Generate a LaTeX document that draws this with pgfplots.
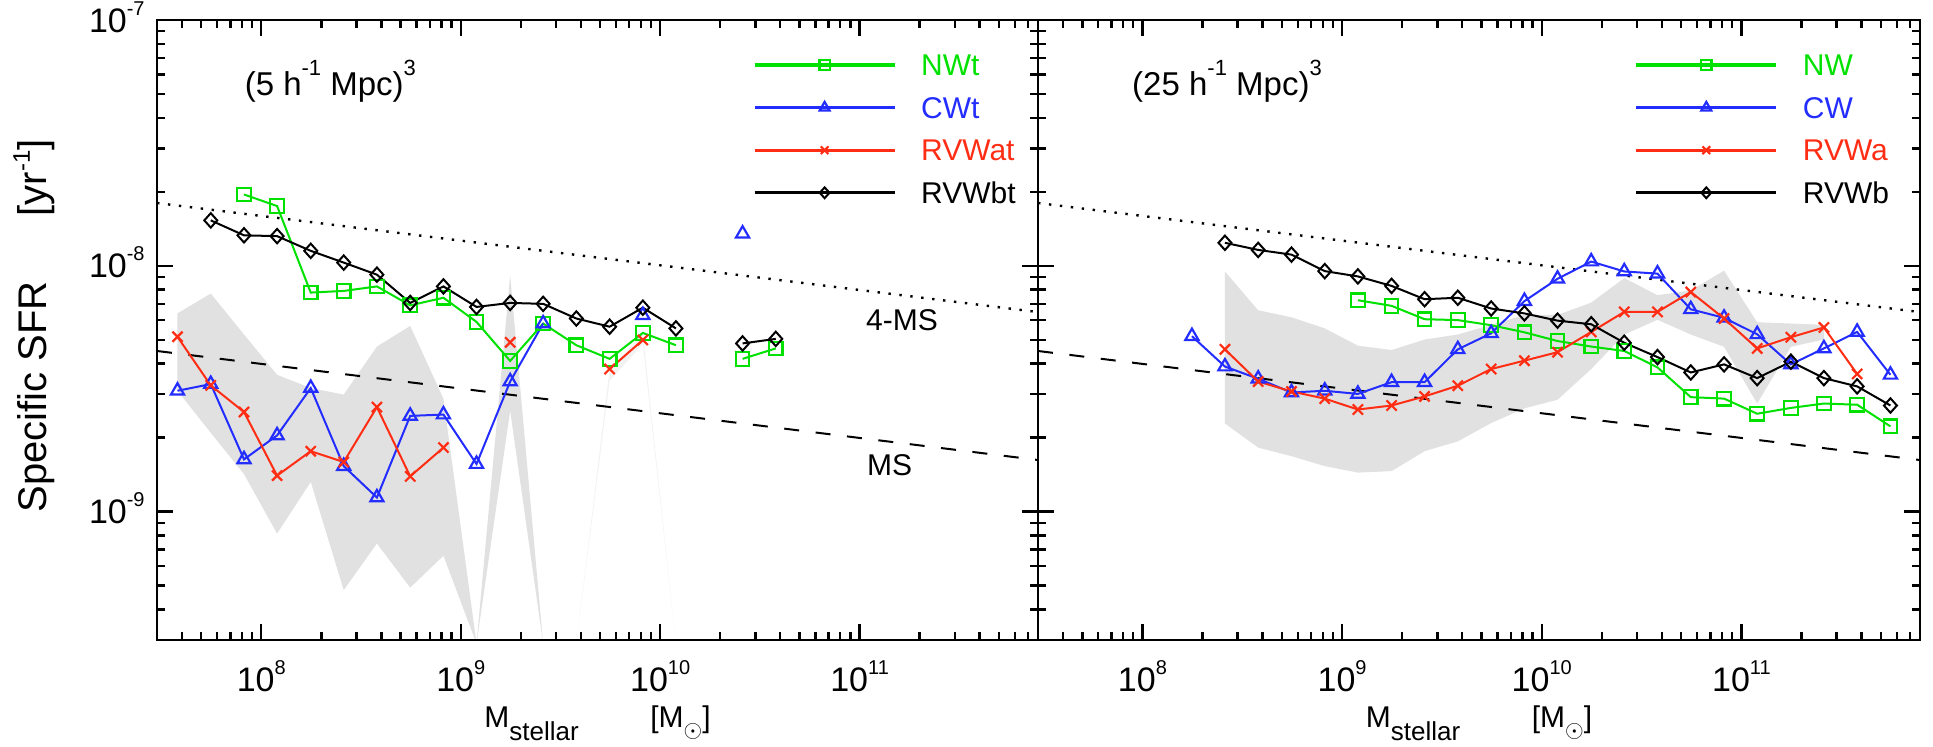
\documentclass[border=0pt]{standalone}
\usepackage{fontspec}
\setmainfont{Liberation Sans}
\usepackage{pgfplots}
\pgfplotsset{compat=1.18}
\definecolor{cgreen}{RGB}{0,225,0}
\definecolor{cblue}{RGB}{35,45,255}
\definecolor{cred}{RGB}{255,45,20}
\definecolor{cband}{RGB}{225,225,225}
\newcommand\tlab[1]{10\raisebox{0.5em}{\fontsize{10}{10}\selectfont #1}}
\newcommand\sups[1]{\raisebox{0.6em}{\fontsize{11}{11}\selectfont #1}}
\tikzset{
  sNW/.style={color=cgreen, line width=1pt, mark=square, mark size=3.4pt, mark options={solid, line width=1.1pt}},
  sCW/.style={color=cblue, line width=1pt, mark=triangle, mark size=3.8pt, mark options={solid, line width=1.1pt}},
  sRa/.style={color=cred, line width=1pt, mark=x, mark size=3.6pt, mark options={solid, line width=1.1pt}},
  sRb/.style={color=black, line width=1pt, mark=diamond, mark size=3.6pt, mark options={solid, line width=1pt, xscale=1.2}},
  msline/.style={black, line width=1pt, dash pattern=on 7.5pt off 8.3pt},
  ms4line/.style={black, line width=1.2pt, dash pattern=on 1.2pt off 4.3pt},
}
\begin{document}
\begin{tikzpicture}
\path[use as bounding box] (0pt,0pt) rectangle (966.5pt,373.5pt);
% ---------------- left panel ----------------
\begin{axis}[
    xmode=log, ymode=log, scale only axis, height=310pt, width=440.5pt,
    at={(78.5pt,53.5pt)}, anchor=south west,
    xmin=3e7, xmax=7.85e11, ymin=3e-10, ymax=1e-7,
    xtick={1e8,1e9,1e10,1e11},
    xticklabels={\tlab{8},\tlab{9},\tlab{10},\tlab{11}},
    minor xtick={4e7,5e7,6e7,7e7,8e7,9e7,2e8,3e8,4e8,5e8,6e8,7e8,8e8,9e8,2e9,3e9,4e9,5e9,6e9,7e9,8e9,9e9,2e10,3e10,4e10,5e10,6e10,7e10,8e10,9e10,2e11,3e11,4e11,5e11,6e11,7e11},
    ytick={1e-9,1e-8,1e-7},
    yticklabels={\tlab{-9},\tlab{-8},\tlab{-7}},
    minor ytick={4e-10,5e-10,6e-10,7e-10,8e-10,9e-10,2e-9,3e-9,4e-9,5e-9,6e-9,7e-9,8e-9,9e-9,2e-8,3e-8,4e-8,5e-8,6e-8,7e-8,8e-8,9e-8},
    axis line style={line width=1.4pt},
    tick style={black, line width=1.2pt},
    major tick length=8pt, minor tick length=4pt,
    tick align=inside,
    axis on top=true,
    xticklabel style={font=\fontsize{17}{17}\selectfont, anchor=base, inner sep=0pt, yshift=-25.85pt},
    yticklabel style={font=\fontsize{17}{17}\selectfont, anchor=base east, inner sep=0pt, xshift=-6pt, yshift=-6.1pt},
    unbounded coords=jump,
    legend style={at={(axis description cs:0.6765,0.9447)}, anchor=north west, draw=none, fill=none,
      inner sep=0pt, outer sep=0pt, row sep=10.6pt, column sep=12.5pt,
      font=\fontsize{15}{15}\selectfont,
      nodes={inner sep=0pt, text height=10.7pt, text depth=0pt}},
    legend cell align=left,
    legend image code/.code={
      \draw[line width=1.6pt] (0pt,0pt) -- (70pt,0pt);
      \draw[line width=0.7pt, every mark/.append style={scale=0.75}] plot coordinates {(35pt,0pt)};
    },
    xlabel={M\raisebox{-6.5pt}{\fontsize{13}{13}\selectfont stellar}\hspace{35.8pt}[M\raisebox{-5pt}{\fontsize{12}{12}\selectfont$\odot$}]},
    xlabel style={at={(axis description cs:0.5,0)}, anchor=base, yshift=-43.5pt, font=\fontsize{15}{15}\selectfont},
]
\addplot[fill=cband, draw=none, forget plot] coordinates {
 (3.80e7,6.40e-9) (5.58e7,7.71e-9) (8.19e7,5.25e-9) (1.20e8,3.60e-9) (1.77e8,3.18e-9) (2.59e8,2.99e-9)
 (3.80e8,4.69e-9) (5.58e8,5.69e-9) (8.19e8,2.88e-9) (1.20e9,2.9e-10) (1.77e9,9.12e-9) (2.59e9,2.9e-10)
 (2.59e9,2.9e-10) (1.77e9,2.57e-9) (1.20e9,2.9e-10) (8.19e8,6.61e-10) (5.58e8,4.90e-10) (3.80e8,7.41e-10)
 (2.59e8,4.79e-10) (1.77e8,1.32e-9) (1.20e8,8.13e-10) (8.19e7,1.42e-9) (5.58e7,2.09e-9) (3.80e7,3.10e-9)
} --cycle;
\addplot[fill=black!5, draw=none, forget plot] coordinates {
 (3.80e9,2.9e-10) (5.58e9,3.8e-9) (8.19e9,5.3e-9) (1.20e10,2.9e-10) (8.19e9,4.8e-9) (5.58e9,3.4e-9)
} --cycle;
\addplot[ms4line, forget plot] coordinates {(3e7,1.8e-8) (7.85e11,6.48e-9)};
\addplot[msline, forget plot] coordinates {(3e7,4.5e-9) (7.85e11,1.62e-9)};
\addplot[sNW] coordinates {
 (8.19e7,1.95e-8) (1.20e8,1.75e-8) (1.77e8,7.78e-9) (2.59e8,7.9e-9) (3.80e8,8.24e-9) (5.58e8,6.9e-9)
 (8.19e8,7.41e-9) (1.20e9,5.91e-9) (1.77e9,4.10e-9) (2.59e9,5.82e-9) (3.80e9,4.75e-9) (5.58e9,4.18e-9)
 (8.19e9,5.33e-9) (1.20e10,4.75e-9) (1.77e10,nan) (2.59e10,4.18e-9) (3.80e10,4.61e-9)};
\addlegendentry{\textcolor{cgreen}{NWt}}
\addplot[sCW] coordinates {
 (3.80e7,3.10e-9) (5.58e7,3.30e-9) (8.19e7,1.63e-9) (1.20e8,2.04e-9) (1.77e8,3.18e-9) (2.59e8,1.53e-9)
 (3.80e8,1.14e-9) (5.58e8,2.45e-9) (8.19e8,2.48e-9) (1.20e9,1.56e-9) (1.77e9,3.38e-9) (2.59e9,5.82e-9)
 (3.80e9,nan) (8.19e9,6.29e-9) (1.20e10,nan) (2.59e10,1.35e-8)};
\addlegendentry{\textcolor{cblue}{CWt}}
\addplot[sRa] coordinates {
 (3.80e7,5.14e-9) (5.58e7,3.26e-9) (8.19e7,2.54e-9) (1.20e8,1.40e-9) (1.77e8,1.76e-9) (2.59e8,1.59e-9)
 (3.80e8,2.66e-9) (5.58e8,1.39e-9) (8.19e8,1.82e-9) (1.20e9,nan) (1.77e9,4.88e-9) (2.59e9,nan)
 (5.58e9,3.80e-9) (8.19e9,4.99e-9)};
\addlegendentry{\textcolor{cred}{RVWat}}
\addplot[sRb] coordinates {
 (5.58e7,1.53e-8) (8.19e7,1.33e-8) (1.20e8,1.32e-8) (1.77e8,1.15e-8) (2.59e8,1.03e-8) (3.80e8,9.2e-9)
 (5.58e8,7.06e-9) (8.19e8,8.24e-9) (1.20e9,6.8e-9) (1.77e9,7.06e-9) (2.59e9,7.0e-9) (3.80e9,6.1e-9)
 (5.58e9,5.65e-9) (8.19e9,6.75e-9) (1.20e10,5.56e-9) (1.77e10,nan) (2.59e10,4.83e-9) (3.80e10,5.04e-9)};
\addlegendentry{RVWbt}
\node[anchor=base west, font=\fontsize{16.5}{16.5}\selectfont] at (axis description cs:0.0916,0.879) {(5 h\sups{-1} Mpc)\sups{3}};
\node[anchor=base west, font=\fontsize{15}{15}\selectfont] at (axis description cs:0.797,0.5) {4-MS};
\node[anchor=base west, font=\fontsize{15}{15}\selectfont] at (axis description cs:0.798,0.266) {MS};
\end{axis}
% y label, as two pieces of text
\node[rotate=90, anchor=base west, inner sep=0pt, font=\fontsize{20}{20}\selectfont] at (23.35pt,117pt) {Specific SFR};
\node[rotate=90, anchor=base west, inner sep=0pt, font=\fontsize{20}{20}\selectfont] at (23.35pt,265.15pt) {[yr\raisebox{0.42em}{\fontsize{12}{12}\selectfont -1}]};
% ---------------- right panel ----------------
\begin{axis}[
    xmode=log, ymode=log, scale only axis, height=310pt, width=441pt,
    at={(519pt,53.5pt)}, anchor=south west,
    xmin=3e7, xmax=7.85e11, ymin=3e-10, ymax=1e-7,
    xtick={1e8,1e9,1e10,1e11},
    xticklabels={\tlab{8},\tlab{9},\tlab{10},\tlab{11}},
    minor xtick={4e7,5e7,6e7,7e7,8e7,9e7,2e8,3e8,4e8,5e8,6e8,7e8,8e8,9e8,2e9,3e9,4e9,5e9,6e9,7e9,8e9,9e9,2e10,3e10,4e10,5e10,6e10,7e10,8e10,9e10,2e11,3e11,4e11,5e11,6e11,7e11},
    ytick={1e-9,1e-8,1e-7},
    yticklabels={},
    minor ytick={4e-10,5e-10,6e-10,7e-10,8e-10,9e-10,2e-9,3e-9,4e-9,5e-9,6e-9,7e-9,8e-9,9e-9,2e-8,3e-8,4e-8,5e-8,6e-8,7e-8,8e-8,9e-8},
    axis line style={line width=1.4pt},
    tick style={black, line width=1.2pt},
    major tick length=8pt, minor tick length=4pt,
    tick align=inside,
    axis on top=true,
    xticklabel style={font=\fontsize{17}{17}\selectfont, anchor=base, inner sep=0pt, yshift=-25.85pt},
    unbounded coords=jump,
    legend style={at={(axis description cs:0.6765,0.9447)}, anchor=north west, draw=none, fill=none,
      inner sep=0pt, outer sep=0pt, row sep=10.6pt, column sep=12.5pt,
      font=\fontsize{15}{15}\selectfont,
      nodes={inner sep=0pt, text height=10.7pt, text depth=0pt}},
    legend cell align=left,
    legend image code/.code={
      \draw[line width=1.6pt] (0pt,0pt) -- (70pt,0pt);
      \draw[line width=0.7pt, every mark/.append style={scale=0.75}] plot coordinates {(35pt,0pt)};
    },
    xlabel={M\raisebox{-6.5pt}{\fontsize{13}{13}\selectfont stellar}\hspace{35.8pt}[M\raisebox{-5pt}{\fontsize{12}{12}\selectfont$\odot$}]},
    xlabel style={at={(axis description cs:0.5,0)}, anchor=base, yshift=-43.5pt, font=\fontsize{15}{15}\selectfont},
]
\addplot[fill=cband, draw=none, forget plot] coordinates {
 (2.59e8,9.48e-9) (3.80e8,6.59e-9) (5.58e8,6.17e-9) (8.19e8,5.56e-9) (1.20e9,4.73e-9) (1.77e9,4.54e-9)
 (2.59e9,5.01e-9) (3.80e9,5.25e-9) (5.58e9,5.75e-9) (8.19e9,6.31e-9) (1.20e10,6.31e-9) (1.77e10,7.08e-9)
 (2.59e10,8.91e-9) (3.80e10,7.59e-9) (5.58e10,7.94e-9) (8.19e10,9.55e-9) (1.20e11,5.89e-9) (1.77e11,5.82e-9)
 (2.59e11,5.75e-9)
 (2.59e11,5.01e-9) (1.77e11,4.68e-9) (1.20e11,2.75e-9) (8.19e10,4.68e-9) (5.58e10,5.25e-9) (3.80e10,6.03e-9)
 (2.59e10,5.25e-9) (1.77e10,3.80e-9) (1.20e10,2.85e-9) (8.19e9,2.63e-9) (5.58e9,2.29e-9) (3.80e9,1.93e-9)
 (2.59e9,1.76e-9) (1.77e9,1.46e-9) (1.20e9,1.44e-9) (8.19e8,1.53e-9) (5.58e8,1.68e-9) (3.80e8,1.82e-9)
 (2.59e8,2.28e-9)
} --cycle;
\addplot[ms4line, forget plot] coordinates {(3e7,1.8e-8) (7.85e11,6.48e-9)};
\addplot[msline, forget plot] coordinates {(3e7,4.5e-9) (7.85e11,1.62e-9)};
\addplot[sNW] coordinates {
 (1.20e9,7.24e-9) (1.77e9,6.87e-9) (2.59e9,6.06e-9) (3.80e9,6.01e-9) (5.58e9,5.73e-9) (8.19e9,5.36e-9)
 (1.20e10,4.94e-9) (1.77e10,4.69e-9) (2.59e10,4.50e-9) (3.80e10,3.86e-9) (5.58e10,2.92e-9) (8.19e10,2.88e-9)
 (1.20e11,2.50e-9) (1.77e11,2.64e-9) (2.59e11,2.75e-9) (3.80e11,2.72e-9) (5.58e11,2.22e-9)};
\addlegendentry{\textcolor{cgreen}{NW}}
\addplot[sCW] coordinates {
 (1.77e8,5.17e-9) (2.59e8,3.89e-9) (3.80e8,3.47e-9) (5.58e8,3.05e-9) (8.19e8,3.10e-9) (1.20e9,3.01e-9)
 (1.77e9,3.36e-9) (2.59e9,3.36e-9) (3.80e9,4.57e-9) (5.58e9,5.31e-9) (8.19e9,7.18e-9) (1.20e10,8.85e-9)
 (1.77e10,1.04e-8) (2.59e10,9.48e-9) (3.80e10,9.29e-9) (5.58e10,6.65e-9) (8.19e10,6.14e-9) (1.20e11,5.26e-9)
 (1.77e11,3.97e-9) (2.59e11,4.61e-9) (3.80e11,5.38e-9) (5.58e11,3.60e-9)};
\addlegendentry{\textcolor{cblue}{CW}}
\addplot[sRa] coordinates {
 (2.59e8,4.57e-9) (3.80e8,3.38e-9) (5.58e8,3.08e-9) (8.19e8,2.88e-9) (1.20e9,2.60e-9) (1.77e9,2.70e-9)
 (2.59e9,2.94e-9) (3.80e9,3.25e-9) (5.58e9,3.80e-9) (8.19e9,4.11e-9) (1.20e10,4.45e-9) (1.77e10,5.38e-9)
 (2.59e10,6.49e-9) (3.80e10,6.49e-9) (5.58e10,7.82e-9) (8.19e10,6.10e-9) (1.20e11,4.61e-9) (1.77e11,5.12e-9)
 (2.59e11,5.61e-9) (3.80e11,3.63e-9)};
\addlegendentry{\textcolor{cred}{RVWa}}
\addplot[sRb] coordinates {
 (2.59e8,1.24e-8) (3.80e8,1.16e-8) (5.58e8,1.11e-8) (8.19e8,9.51e-9) (1.20e9,9.05e-9) (1.77e9,8.28e-9)
 (2.59e9,7.31e-9) (3.80e9,7.41e-9) (5.58e9,6.70e-9) (8.19e9,6.40e-9) (1.20e10,5.98e-9) (1.77e10,5.78e-9)
 (2.59e10,4.86e-9) (3.80e10,4.25e-9) (5.58e10,3.68e-9) (8.19e10,3.97e-9) (1.20e11,3.49e-9) (1.77e11,4.07e-9)
 (2.59e11,3.49e-9) (3.80e11,3.23e-9) (5.58e11,2.70e-9)};
\addlegendentry{RVWb}
\node[anchor=base west, font=\fontsize{16.5}{16.5}\selectfont] at (axis description cs:0.0988,0.879) {(25 h\sups{-1} Mpc)\sups{3}};
\end{axis}
\end{tikzpicture}
\end{document}
